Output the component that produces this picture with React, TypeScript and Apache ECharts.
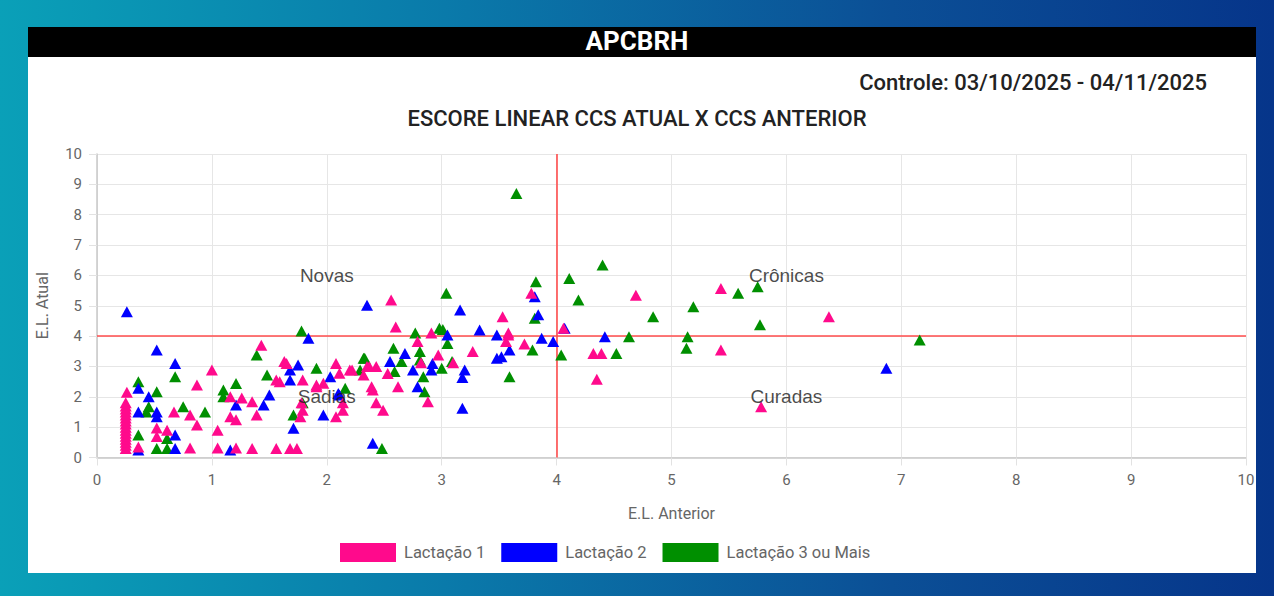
import React, { useEffect, useRef } from "react";
import * as echarts from "echarts";

const headerText = "APCBRH";
const periodText = "Controle: 03/10/2025 - 04/11/2025";
const chartTitle = "ESCORE LINEAR CCS ATUAL X CCS ANTERIOR";
const xAxisName = "E.L. Anterior";
const yAxisName = "E.L. Atual";
const seriesNames = ["Lactação 1", "Lactação 2", "Lactação 3 ou Mais"];
const seriesColors = ["#ff0a8c", "#0000ff", "#008f00"];
const thresholdX = 4;
const thresholdY = 4;

const quadrantLabels = [
  { name: "Novas", value: [2, 6] },
  { name: "Crônicas", value: [6, 6] },
  { name: "Sadias", value: [2, 2] },
  { name: "Curadas", value: [6, 2] },
];

const lactacao1: number[][] = [
  [0.25, 0.3], [0.25, 0.4], [0.25, 0.5], [0.25, 0.6], [0.25, 0.7], [0.25, 0.8], [0.25, 0.9],
  [0.25, 1.0], [0.25, 1.1], [0.25, 1.2], [0.25, 1.3], [0.25, 1.4], [0.25, 1.5], [0.25, 1.6],
  [0.25, 1.7], [0.25, 1.8], [0.26, 2.15],
  [0.36, 0.35], [0.52, 0.97], [0.52, 0.69], [0.61, 0.9], [0.67, 1.5], [0.81, 1.4], [0.87, 2.39],
  [1.0, 2.88], [0.87, 1.07], [1.05, 0.9], [0.81, 0.31], [1.05, 0.31], [1.21, 0.31], [1.16, 2.0],
  [1.26, 1.96], [1.16, 1.34], [1.21, 1.24], [1.35, 1.84], [1.39, 1.4], [1.35, 0.3], [1.56, 0.3],
  [1.68, 0.3], [1.74, 0.3], [1.43, 3.7], [1.63, 3.16], [1.79, 2.55], [1.56, 2.55], [1.78, 1.8],
  [1.79, 1.56], [1.77, 1.34], [2.08, 1.34], [2.14, 1.8], [2.14, 1.56], [2.08, 3.1], [2.11, 2.78],
  [2.2, 2.88], [2.35, 3.0], [2.43, 3.0], [2.43, 1.8], [2.49, 1.56], [2.4, 2.22], [1.91, 2.33],
  [1.97, 2.45], [2.56, 5.19], [2.6, 4.3], [2.79, 3.82], [2.91, 4.1], [2.97, 3.38], [2.82, 3.12],
  [3.1, 3.12], [2.88, 1.84], [2.62, 2.33], [3.27, 3.49], [3.53, 4.64], [3.58, 4.1], [3.56, 3.82],
  [3.72, 3.74], [3.78, 5.41], [4.06, 4.26], [2.22, 2.88], [2.37, 3.0], [2.53, 2.77], [2.32, 2.72],
  [2.39, 2.33], [1.59, 2.5], [1.65, 3.1], [1.91, 2.39], [3.58, 4.04], [4.32, 3.43], [4.39, 3.43],
  [4.35, 2.58], [4.69, 5.35], [5.43, 5.57], [5.43, 3.54], [5.78, 1.67], [6.37, 4.64],
];

const lactacao2: number[][] = [
  [0.26, 4.8], [0.52, 3.54], [0.68, 3.1], [0.36, 2.28], [0.45, 2.0], [0.36, 1.5], [0.52, 1.5],
  [0.52, 1.34], [0.68, 0.74], [0.68, 0.3], [0.36, 0.25], [1.16, 0.25], [1.21, 1.73], [1.45, 1.73],
  [1.5, 2.06], [1.68, 2.88], [1.75, 3.05], [1.68, 2.55], [1.84, 3.93], [1.97, 1.4], [1.71, 0.96],
  [2.11, 2.06], [2.35, 5.02], [2.4, 0.47], [3.16, 4.86], [2.03, 2.66], [2.1, 2.11], [2.68, 3.43],
  [2.55, 3.16], [2.75, 2.88], [2.79, 2.33], [2.92, 3.1], [2.91, 2.88], [3.05, 4.04], [3.2, 2.88],
  [3.18, 2.64], [3.18, 1.62], [3.33, 4.2], [3.48, 4.04], [3.48, 3.27], [3.52, 3.32], [3.59, 3.54],
  [3.81, 5.3], [3.84, 4.7], [3.87, 3.93], [3.97, 3.82], [4.07, 4.26], [4.42, 3.98], [6.87, 2.94],
];

const lactacao3: number[][] = [
  [0.36, 2.5], [0.52, 2.17], [0.68, 2.66], [0.45, 1.67], [0.43, 1.5], [0.36, 0.74], [0.52, 0.3],
  [0.61, 0.3], [0.61, 0.63], [0.75, 1.67], [0.94, 1.5], [1.1, 2.22], [1.1, 2.0], [1.21, 2.44],
  [1.39, 3.38], [1.48, 2.72], [1.71, 1.4], [1.78, 4.17], [1.91, 2.94], [1.79, 1.8], [2.16, 2.28],
  [2.32, 3.27], [2.29, 2.88], [2.48, 0.3], [3.65, 8.7], [3.04, 5.41], [2.98, 4.26], [3.01, 4.22],
  [2.77, 4.1], [2.58, 3.6], [2.81, 3.49], [2.81, 3.21], [2.65, 3.16], [3.05, 3.76], [3.09, 3.16],
  [3.0, 2.94], [2.84, 2.66], [2.85, 2.17], [2.33, 3.27], [2.59, 2.83], [3.82, 5.79], [3.81, 4.59],
  [3.79, 3.54], [3.59, 2.66], [4.04, 3.38], [4.11, 5.9], [4.19, 5.19], [4.4, 6.34], [4.52, 3.43],
  [4.63, 3.98], [4.84, 4.64], [5.14, 3.98], [5.13, 3.6], [5.19, 4.97], [5.58, 5.41], [5.75, 5.63],
  [5.77, 4.37], [7.16, 3.87],
];

const seriesData = [lactacao1, lactacao2, lactacao3];

export default function App() {
  const ref = useRef<HTMLDivElement>(null);
  useEffect(() => {
    if (!ref.current) return;
    const chart = echarts.init(ref.current, undefined, { renderer: "svg" });
    const font = "Roboto, 'Noto Sans', Arial, sans-serif";
    const arial = "'Liberation Sans', Arial, Helvetica, sans-serif";
    const scatterSeries = seriesData.map((d, i) => ({
      name: seriesNames[i],
      type: "scatter",
      data: d,
      symbol: "triangle",
      symbolSize: [12, 11],
      itemStyle: { color: seriesColors[i], opacity: 1 },
      z: 10 - i,
    }));
    chart.setOption({
      animation: false,
      textStyle: { fontFamily: font },
      graphic: [
        { type: "rect", shape: { x: 28, y: 27, width: 1228, height: 546 }, style: { fill: "#ffffff" }, z: -10 },
        { type: "rect", shape: { x: 28, y: 27, width: 1228, height: 30 }, style: { fill: "#000000" }, z: -9 },
      ],
      title: [
        { text: headerText, left: "center", top: 23, textStyle: { color: "#ffffff", fontSize: 26, fontWeight: "bold", fontFamily: font } },
        { text: periodText, right: 62, top: 66, textStyle: { color: "#222222", fontSize: 22, fontWeight: 500, fontFamily: font } },
        { text: chartTitle, left: "center", top: 102, textStyle: { color: "#222222", fontSize: 22, fontWeight: 500, fontFamily: font } },
      ],
      legend: {
        data: seriesNames,
        left: 335,
        top: 538,
        icon: "rect",
        itemWidth: 56,
        itemHeight: 19,
        itemGap: 16,
        textStyle: { color: "#666666", fontSize: 16.5, fontFamily: font, padding: [0, 0, 0, 3] },
      },
      grid: { left: 97, right: 28, top: 154, bottom: 138.5, containLabel: false },
      xAxis: {
        type: "value",
        min: 0,
        max: 10,
        interval: 1,
        name: xAxisName,
        nameLocation: "middle",
        nameGap: 48,
        nameTextStyle: { color: "#666666", fontSize: 16 },
        axisLine: { show: true, lineStyle: { color: "#c8c8c8", width: 1.5 } },
        axisTick: { show: true, length: 8, lineStyle: { color: "#e2e2e2" } },
        axisLabel: { color: "#666666", fontSize: 15, margin: 15 },
        splitLine: { show: true, lineStyle: { color: "#e6e6e6", width: 1 } },
      },
      yAxis: {
        type: "value",
        min: 0,
        max: 10,
        interval: 1,
        name: yAxisName,
        nameLocation: "middle",
        nameGap: 47,
        nameRotate: 90,
        nameTextStyle: { color: "#666666", fontSize: 16 },
        axisLine: { show: true, lineStyle: { color: "#c8c8c8", width: 1.5 } },
        axisTick: { show: true, length: 8, lineStyle: { color: "#e2e2e2" } },
        axisLabel: { color: "#666666", fontSize: 15, margin: 15 },
        splitLine: { show: true, lineStyle: { color: "#e6e6e6", width: 1 } },
      },
      series: [
        ...scatterSeries,
        {
          name: "limites",
          type: "scatter",
          data: [],
          silent: true,
          markLine: {
            silent: true,
            symbol: "none",
            label: { show: false },
            lineStyle: { color: "#ff4d4d", width: 1.6, type: "solid" },
            data: [{ xAxis: thresholdX }, { yAxis: thresholdY }],
          },
          z: 5,
        },
        {
          name: "quadrantes",
          type: "scatter",
          data: quadrantLabels,
          symbolSize: 0,
          silent: true,
          z: 20,
          label: {
            show: true,
            position: "inside",
            formatter: "{b}",
            color: "#1a1a1a",
            fontSize: 19,
            fontFamily: arial,
          },
        },
      ],
    });
    return () => chart.dispose();
  }, []);
  return (
    <div
      style={{
        position: "fixed",
        left: 0,
        top: 0,
        width: 1274,
        height: 596,
        background: "linear-gradient(90deg, #0aa0b8 0%, #0a7aaa 35%, #0b4f96 70%, #06358a 100%)",
      }}
    >
      <div ref={ref} style={{ width: 1274, height: 596 }} />
    </div>
  );
}
